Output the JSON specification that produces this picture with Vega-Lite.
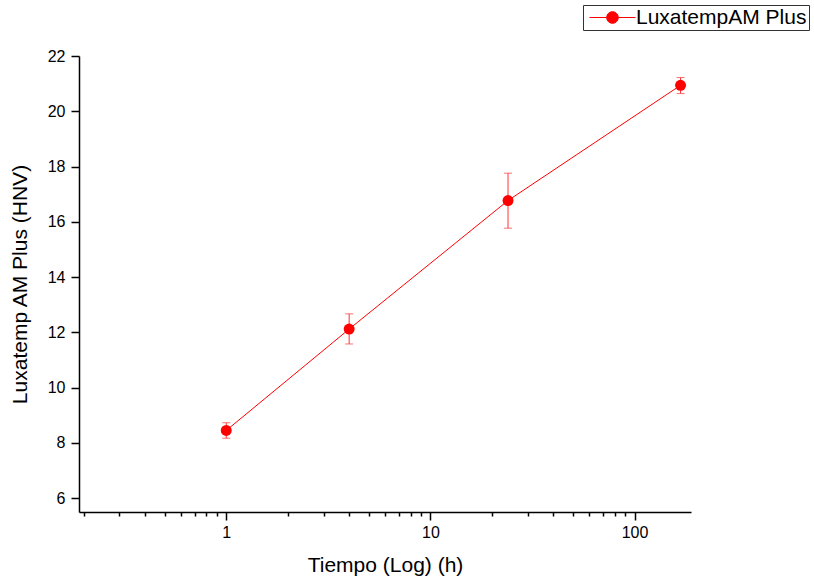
{
  "$schema": "https://vega.github.io/schema/vega-lite/v6.json",
  "autosize": "none",
  "width": 612,
  "height": 456,
  "padding": {"left": 79, "top": 56, "right": 123, "bottom": 73},
  "background": "white",
  "config": {
    "view": {"stroke": null},
    "font": "Liberation Sans",
    "axis": {"grid": false, "domainColor": "black", "tickColor": "black", "domainWidth": 1.5, "tickWidth": 1.5, "labelColor": "black", "titleColor": "black", "labelFont": "Liberation Sans", "titleFont": "Liberation Sans", "titleFontWeight": "normal", "labelFontSize": 16, "titleFontSize": 21}
  },
  "data": {
    "values": [
      {"t": 1, "v": 8.45, "lo": 8.17, "hi": 8.73, "s": "LuxatempAM Plus"},
      {"t": 4, "v": 12.12, "lo": 11.58, "hi": 12.67, "s": "LuxatempAM Plus"},
      {"t": 24, "v": 16.77, "lo": 15.77, "hi": 17.76, "s": "LuxatempAM Plus"},
      {"t": 168, "v": 20.94, "lo": 20.64, "hi": 21.22, "s": "LuxatempAM Plus"}
    ]
  },
  "encoding": {
    "x": {
      "field": "t", "type": "quantitative",
      "scale": {"type": "log", "domain": [0.19, 189], "nice": false},
      "axis": {
        "title": "Tiempo (Log) (h)",
        "titlePadding": 14,
        "values": [0.2,0.3,0.4,0.5,0.6,0.7,0.8,0.9,1,2,3,4,5,6,7,8,9,10,20,30,40,50,60,70,80,90,100],
        "labelExpr": "datum.value==1||datum.value==10||datum.value==100 ? format(datum.value,'d') : ''",
        "labelOverlap": false,
        "labelBound": false,
        "labelFlush": false,
        "labelPadding": 4,
        "tickSize": {"condition": {"test": "datum.value==1||datum.value==10||datum.value==100", "value": 8}, "value": 4}
      }
    }
  },
  "layer": [
    {
      "mark": {"type": "line", "color": "red", "strokeWidth": 1},
      "encoding": {
        "y": {
          "field": "v", "type": "quantitative",
          "title": "Luxatemp AM Plus (HNV)",
          "scale": {"domain": [5.5, 22], "nice": false, "zero": false},
          "axis": {
            "title": "Luxatemp AM Plus (HNV)",
            "titlePadding": 17,
            "values": [6,7,8,9,10,11,12,13,14,15,16,17,18,19,20,21,22],
            "labelExpr": "datum.value % 2 == 0 ? datum.label : ''",
            "labelOverlap": false,
            "labelBound": false,
            "labelFlush": false,
            "labelPadding": 6,
            "tickSize": {"condition": {"test": "datum.value % 2 == 0", "value": 8}, "value": 4}
          }
        }
      }
    },
    {
      "mark": {"type": "errorbar", "color": "#ff3333", "thickness": 1, "ticks": {"size": 8, "color": "#ff3333"}},
      "encoding": {
        "y": {"field": "lo", "type": "quantitative", "title": "Luxatemp AM Plus (HNV)"},
        "y2": {"field": "hi"}
      }
    },
    {
      "mark": {"type": "point", "filled": true, "opacity": 1, "size": 120, "shape": "circle"},
      "encoding": {
        "y": {"field": "v", "type": "quantitative", "title": "Luxatemp AM Plus (HNV)"},
        "color": {
          "field": "s", "type": "nominal",
          "scale": {"range": ["red"]},
          "legend": {
            "title": null,
            "orient": "none",
            "legendX": 504,
            "legendY": -51,
            "strokeColor": "#333333",
            "fillColor": "white",
            "padding": 2,
            "symbolSize": 144,
            "symbolType": "M-1,0H1.87M3.8,0H6.67M1.86,0A0.97,0.97,0,1,1,3.8,0A0.97,0.97,0,1,1,1.86,0Z",
            "symbolFillColor": "red",
            "symbolStrokeColor": "red",
            "symbolStrokeWidth": 1,
            "symbolOpacity": 1,
            "labelOffset": 30,
            "labelFontSize": 21,
            "labelLimit": 400,
            "labelFont": "Liberation Sans",
            "labelColor": "black"
          }
        }
      }
    }
  ]
}
